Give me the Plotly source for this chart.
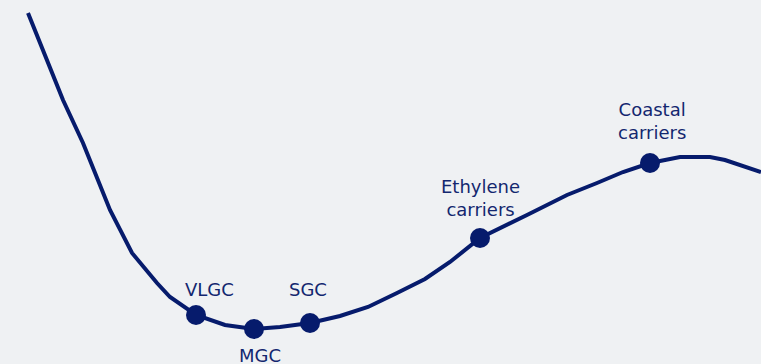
import plotly.graph_objects as go

curve_x = [28, 63, 83, 97, 110, 132, 140, 157, 170, 190, 196, 225, 254, 280, 310, 340, 368, 397, 425, 450, 480, 527, 567, 597, 623, 650, 680, 710, 725, 761]
curve_y = [13, 100, 143, 177, 210, 253, 263, 283, 297, 310, 315, 325, 329, 327, 323, 316, 307, 293, 279, 262, 238, 215, 195, 183, 172, 163, 157, 157, 160, 172]

# Ship segments
segments = ["VLGC", "MGC", "SGC", "Ethylene<br>carriers", "Coastal<br>carriers"]
seg_x = [196, 254, 310, 480, 650]
seg_y = [315, 329, 323, 238, 163]
label_x = [209, 260, 308, 480, 652]
label_y = [289, 355, 289, 198, 121]

navy = "#061b6c"
bg = "#eff1f3"

fig = go.Figure()
fig.add_trace(go.Scatter(x=curve_x, y=curve_y, mode="lines",
                         line=dict(color=navy, width=4), hoverinfo="skip"))
fig.add_trace(go.Scatter(x=seg_x, y=seg_y, mode="markers",
                         marker=dict(color=navy, size=20), hoverinfo="skip"))
for t, lx, ly in zip(segments, label_x, label_y):
    fig.add_annotation(x=lx, y=ly, text=t, showarrow=False, xref="x", yref="y",
                       font=dict(family="DejaVu Sans", size=18, color="#13276f"),
                       xanchor="center", yanchor="middle")

fig.update_layout(width=761, height=364, margin=dict(l=0, r=0, t=0, b=0),
                  paper_bgcolor=bg, plot_bgcolor=bg, showlegend=False,
                  xaxis=dict(range=[0, 761], visible=False, fixedrange=True),
                  yaxis=dict(range=[364, 0], visible=False, fixedrange=True))
fig.write_html("out.html", config={"displayModeBar": False},
               post_script="document.body.style.margin='0';document.body.style.background='%s';" % bg)
